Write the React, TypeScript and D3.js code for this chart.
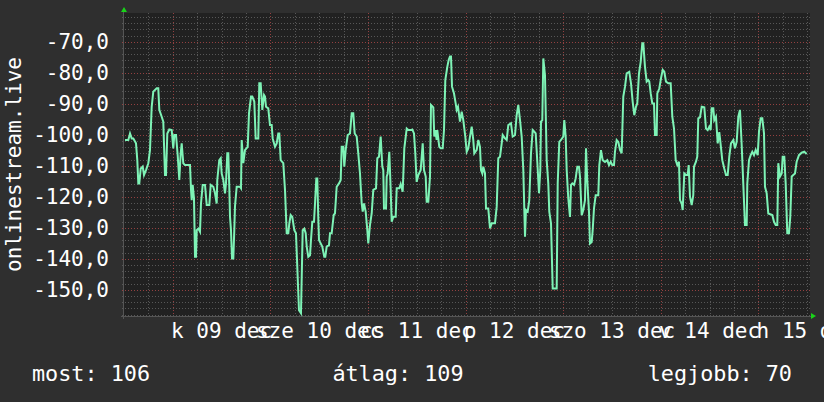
import React from "react";
import * as d3 from "d3";

// hours since 2025-12-08 00:00
const hours = [12.25,13.06,13.48,13.89,14.29,14.95,15.27,15.52,15.76,16.11,16.6,16.92,17.41,17.98,18.39,18.81,19.2,20.04,20.43,20.68,21.27,21.66,22.08,22.33,22.65,23.14,23.73,24.12,24.37,24.79,25.2,25.6,25.94,26.19,26.58,27.0,28.23,28.48,28.65,28.89,29.21,29.46,29.7,29.88,30.27,30.69,30.93,31.35,31.92,32.34,32.98,33.32,33.96,34.38,34.79,34.94,35.43,35.78,36.02,36.42,36.84,37.08,37.4,37.65,37.89,38.07,38.31,38.56,38.88,39.12,39.29,39.71,40.52,40.77,40.94,41.34,41.75,42.42,42.74,43.23,43.55,44.04,44.38,45.02,45.27,45.61,46.01,46.43,46.67,46.92,47.48,47.9,48.32,48.56,49.13,49.55,49.94,50.19,50.53,51.17,51.59,52.01,52.4,52.65,52.99,53.38,53.88,54.29,54.61,55.03,55.52,55.94,56.34,56.68,56.93,57.32,57.74,57.98,58.3,58.72,58.97,59.29,59.53,59.78,59.95,60.76,61.25,61.5,61.84,62.41,62.66,63.07,63.57,63.88,64.3,64.87,65.29,65.53,65.93,66.17,66.51,67.01,67.57,67.99,68.38,68.73,69.22,69.61,70.03,70.45,70.7,71.02,71.43,71.83,72.07,72.49,72.91,73.3,73.97,74.29,74.7,75.12,75.52,75.76,75.93,76.43,76.6,76.84,77.24,77.58,77.83,78.22,78.81,79.06,79.7,80.04,80.53,80.93,81.52,81.91,82.5,82.89,83.31,83.63,83.97,84.37,84.96,85.45,85.77,86.19,86.43,86.83,87.25,87.49,88.06,88.3,88.55,88.89,89.04,89.53,89.88,90.37,90.69,91.01,91.5,91.84,92.16,92.41,92.66,93.15,93.56,93.81,94.13,94.62,95.04,95.43,95.93,96.27,96.66,97.08,97.5,97.89,98.14,98.73,99.12,99.54,99.79,100.11,100.35,100.77,101.02,101.58,102.0,102.42,103.23,103.65,104.04,104.46,104.88,105.12,105.69,106.11,106.5,107.16,107.58,108.15,108.56,108.96,109.38,109.79,110.19,110.61,110.85,111.27,111.66,112.08,112.5,112.89,113.24,113.63,114.05,114.37,114.54,114.86,115.11,115.52,115.94,116.33,116.58,117.0,117.42,118.4,118.65,119.04,119.46,120.02,120.27,120.61,120.86,121.25,121.67,121.92,122.24,122.66,123.07,123.47,123.88,124.13,124.55,124.94,125.36,125.61,125.92,126.34,126.59,127.01,127.25,127.57,127.99,128.63,128.88,129.29,129.71,130.28,130.84,131.26,131.68,132.07,132.49,132.73,133.15,133.55,133.97,134.38,134.78,135.2,135.61,136.25,136.67,137.09,137.48,137.9,138.22,138.64,139.06,139.45,139.7,140.11,140.53,140.93,141.17,141.52,141.91,142.33,142.57,142.99,143.14,143.63,144.05,144.47,144.86,145.28,145.84,146.43,146.83,147.25,147.66,148.06,148.47,148.72,149.14,149.38,149.78,150.2,150.61,150.86,151.18,151.6,151.99,152.16,152.65,152.97,153.22,153.64,154.06,154.7,155.11,155.53,155.92,156.27,156.51,156.91,157.15,157.57,157.99,158.38,158.73,159.12,159.61,160.03,160.45,160.84,161.26,161.83,162.24,162.66,163.06,163.47,163.89,164.28,164.7,165.12,165.27,165.69,166.11,166.5,166.92,167.34,167.83,168.15,168.56,168.96,169.38,169.62,170.04,170.43,171.42,171.84,172.25,172.65,172.89,173.31,173.73,173.97,174.37,174.71,175.1,175.52,175.84,176.19,176.58,177.0,177.41,177.98,178.64,179.28,179.87];

const values = [-101.7,-101.7,-99.6,-101.2,-101.2,-102.8,-108.2,-115.7,-115.7,-110.9,-110.3,-113,-111.4,-109.2,-105,-91,-86.1,-85,-85,-92,-94.2,-95.8,-113,-113,-99.6,-98.3,-98.5,-104.4,-100.1,-100.1,-106.6,-114.6,-106,-102.8,-109.2,-109.8,-109.8,-117.8,-121.1,-116.2,-120.5,-139.4,-139.4,-130.8,-130.3,-131.3,-122.2,-116.2,-116.2,-122.7,-122.7,-116.2,-116.8,-118.9,-122.2,-114.6,-108.2,-107.6,-112.5,-114.6,-118.9,-115.7,-106,-106,-116.8,-126.5,-130.8,-139.9,-139.9,-130.8,-123.2,-116.8,-116.8,-117.3,-101.7,-109.2,-105,-103.9,-93.1,-87.7,-87.7,-89.3,-101.2,-101.2,-83.4,-83.4,-92,-87.2,-87.7,-91,-91.5,-96.9,-96.9,-101.2,-103.9,-102.8,-99.6,-99.6,-108.2,-109.2,-117.8,-131.8,-131.8,-128.6,-125.9,-126.5,-130.8,-131.8,-142.6,-156.6,-157.6,-130.8,-130.3,-131.8,-136.1,-139.4,-138.9,-134,-128.1,-128.1,-122.2,-114.1,-114.1,-127,-134,-136.1,-139.4,-139.4,-136.1,-135.6,-131.8,-131.8,-125.9,-125.4,-116.8,-115.7,-114.6,-103.9,-103.9,-110.3,-105,-100.1,-99.6,-93.1,-93.1,-99.6,-100.6,-106,-112.5,-122.2,-124.8,-122.2,-124.8,-130.8,-135.1,-129.1,-125.4,-117.8,-117.3,-107.6,-107.1,-100.6,-110.3,-111.4,-123.8,-123.8,-113.5,-112.5,-105.5,-117.8,-128.1,-126.5,-126.5,-117.3,-117.3,-115.9,-118.4,-104.4,-98,-98.5,-98.5,-98.3,-99.6,-106,-115.2,-113,-111.4,-102.8,-111.4,-113.5,-121.6,-121.6,-113.5,-90.4,-91.2,-100.6,-98.5,-101.7,-98.5,-103.9,-104.4,-104.4,-98.5,-82.4,-78.1,-75.9,-74.8,-74.8,-84.5,-86.7,-89.9,-92,-91,-95.8,-92.6,-95.3,-100.6,-105.5,-104.4,-100.6,-97.4,-101.7,-106,-104.9,-101.7,-103.9,-111.4,-112.5,-110.3,-112.5,-123.8,-123.8,-130.2,-128.6,-128.6,-123.2,-107.6,-107.1,-102.8,-100.1,-101.2,-101.7,-96.9,-96.3,-100.6,-100.1,-93.7,-90.4,-95.3,-100.6,-111.4,-132.9,-124.3,-124.8,-121.1,-106,-98.5,-99,-99.6,-108.7,-118.9,-111.4,-95.8,-95.3,-75.4,-80.8,-108.2,-115.7,-124.8,-128.6,-149.6,-149.6,-115.7,-102.3,-101.7,-100.6,-95.3,-100.6,-111.4,-120.5,-126.5,-116.2,-115.7,-116.2,-114.1,-110.3,-110.3,-113.5,-126,-124.3,-121.1,-104.4,-114.6,-124.8,-135.1,-134.6,-130.8,-123.8,-119.5,-119.5,-109.8,-105,-108.2,-108.8,-108.2,-109.8,-108.7,-109.8,-109.8,-105.5,-101.7,-102.3,-104.9,-106,-87.7,-84.5,-80.2,-79.7,-83.4,-89.4,-93.7,-91,-89.9,-80.2,-76.5,-70.5,-70.5,-78.1,-82.9,-82.4,-82.9,-86.7,-89.9,-89.9,-100.1,-100.1,-86.7,-85.1,-81.8,-79.1,-79.7,-82.9,-83.4,-83.4,-94.2,-98,-108.2,-109.8,-108.7,-121.1,-122.2,-124.3,-112.5,-113,-113,-109.8,-120,-122.7,-119.5,-110.3,-108.7,-107.1,-94.7,-94.4,-91,-91.2,-98,-98.5,-97.4,-98.5,-91.5,-91.5,-95.3,-94.2,-102.8,-99.2,-103.3,-108.2,-110.9,-113,-113,-107.1,-102.8,-101.7,-104.4,-102.3,-94.2,-92,-103.3,-115.7,-129.1,-129.1,-115.7,-108.2,-106.6,-105.5,-106.6,-104.9,-106.6,-99,-94.7,-94.7,-99.6,-116.8,-118.9,-125.4,-125.9,-128.1,-129.1,-129.1,-109.2,-113.5,-112.5,-107.1,-107.1,-115.7,-131.8,-131.8,-126.5,-113.5,-113,-112.5,-108.7,-106.6,-105.8,-105.5,-106.2];

const dayLabels = ["k 09 dec", "sze 10 dec", "cs 11 dec", "p 12 dec", "szo 13 dec", "v 14 dec", "h 15 dec"];
const dayNoons = [36, 60, 84, 108, 132, 156, 180];
const yTickValues = [-70, -80, -90, -100, -110, -120, -130, -140, -150];
const yTitle = "onlinestream.live";
const legendLabels = ["most: 106", "átlag: 109", "legjobb: 70"];

const W = 824;
const H = 402;
const X0 = 124, X1 = 810, Y0 = 13, Y1 = 316;
const FONT = "'DejaVu Sans Mono', monospace";

export default function App() {
  const x = d3.scaleLinear().domain([12, 180.69]).range([X0, X1]);
  const y = d3.scaleLinear().domain([-158.48, -60.74]).range([Y1, Y0]);
  const line = d3
    .line<number>()
    .x((_, i) => x(hours[i]))
    .y((d) => y(d));

  const minorV = d3.range(18, 181, 6).filter((h) => h % 24 !== 0);
  const majorV = d3.range(24, 181, 24);
  const minorH = d3.range(-158, -60, 2).filter((v) => v % 10 !== 0);
  const majorH = d3.range(-150, -60, 10);

  const fmt = (v: number) => d3.format(".1f")(v).replace(".", ",").replace("−", "-");

  return (
    <svg width={W} height={H} style={{ position: "absolute", left: 0, top: 0, display: "block" }}>
      <rect x={0} y={0} width={W} height={H} fill="#2f2f2f" />
      <rect x={X0} y={Y0} width={X1 - X0} height={Y1 - Y0} fill="#212121" />
      <g shapeRendering="crispEdges" strokeWidth={1}>
        {minorH.map((v) => (
          <line key={"mh" + v} x1={X0 - 2} x2={X1 + 2} y1={Math.round(y(v)) + 0.5} y2={Math.round(y(v)) + 0.5} stroke="#575757" strokeDasharray="1,2" />
        ))}
        {minorV.map((h) => (
          <line key={"mv" + h} x1={Math.round(x(h)) + 0.5} x2={Math.round(x(h)) + 0.5} y1={Y0} y2={Y1 + 2} stroke="#575757" strokeDasharray="1,2" />
        ))}
        {majorH.map((v) => (
          <line key={"Mh" + v} x1={X0 - 2} x2={X1 + 2} y1={Math.round(y(v)) + 0.5} y2={Math.round(y(v)) + 0.5} stroke="#934040" strokeDasharray="1,2" />
        ))}
        {majorV.map((h) => (
          <line key={"Mv" + h} x1={Math.round(x(h)) + 0.5} x2={Math.round(x(h)) + 0.5} y1={Y0} y2={Y1 + 3} stroke="#934040" strokeDasharray="1,2" />
        ))}
        <line x1={X0 - 3} x2={X1 + 2} y1={Y1 + 0.5} y2={Y1 + 0.5} stroke="#555" />
        <line x1={X0 - 0.5} x2={X0 - 0.5} y1={Y0 - 2} y2={Y1 + 3} stroke="#555" />
      </g>
      <path d={line(values) || ""} fill="none" stroke="#7ef3b6" strokeWidth={2} strokeLinejoin="miter" />
      <polygon points={`${X0 - 3},${Y0 - 1} ${X0 + 3},${Y0 - 1} ${X0},${Y0 - 6}`} fill="#19d219" />
      <polygon points={`${X1 + 1},${Y1 - 3} ${X1 + 1},${Y1 + 3} ${X1 + 6},${Y1}`} fill="#19d219" />
      <g fill="#ffffff" fontFamily={FONT} fontSize={21}>
        {yTickValues.map((v) => (
          <text key={"yt" + v} x={109} y={y(v) + 7.3} textAnchor="end">
            {fmt(v)}
          </text>
        ))}
        {dayLabels.map((s, i) => (
          <text key={"xl" + s} x={x(dayNoons[i])} y={337.5} textAnchor="middle">
            {s}
          </text>
        ))}
        <text transform={`translate(21,${(Y0 + Y1) / 2}) rotate(-90)`} textAnchor="middle">
          {yTitle}
        </text>
      </g>
      <g fill="#ffffff" fontFamily={FONT} fontSize={21.8}>
        <text x={32} y={381} textAnchor="start">{legendLabels[0]}</text>
        <text x={398} y={381} textAnchor="middle">{legendLabels[1]}</text>
        <text x={792} y={381} textAnchor="end">{legendLabels[2]}</text>
      </g>
    </svg>
  );
}
